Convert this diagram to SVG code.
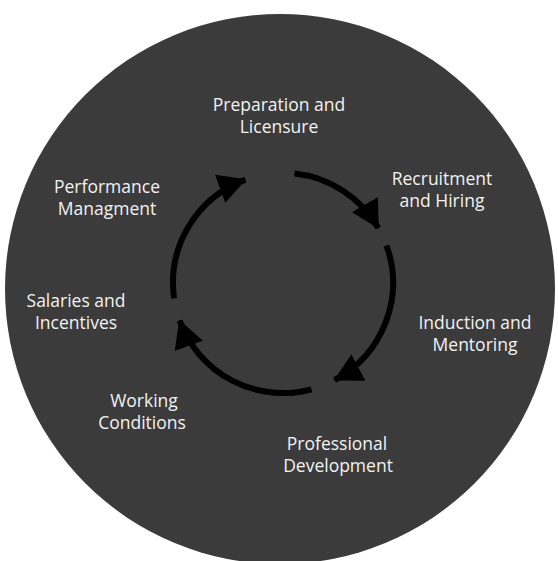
<svg xmlns="http://www.w3.org/2000/svg" width="558" height="561" viewBox="0 0 558 561">
<style>
.lbl{font-family:"Open Sans","DejaVu Sans",sans-serif;font-size:17.5px;fill:#f2f2f2;text-anchor:middle}
.arc{fill:none;stroke:#000;stroke-width:6;marker-end:url(#ah)}
</style>
<defs>
<marker id="ah" markerUnits="userSpaceOnUse" markerWidth="30" markerHeight="30" refX="27" refY="15" orient="auto" viewBox="0 0 30 30">
<path d="M0,0 L28,15 L0,30 Z" fill="#000"/>
</marker>
</defs>
<rect width="558" height="561" fill="#fff"/>
<circle id="background" cx="280" cy="289" r="275" fill="#3b3b3b"/>
<g id="connectors">
<path class="arc" d="M174.1,298.3 A110,110 0 0 1 245.4,179.6"/>
<path class="arc" d="M294.5,173.6 A110,110 0 0 1 378.3,228"/>
<path class="arc" d="M386.4,245.4 A110,110 0 0 1 334.6,380.1"/>
<path class="arc" d="M311.5,389.3 A110,110 0 0 1 179.6,320.6"/>
</g>
<g id="prep"><text class="lbl" x="279" y="111">Preparation and</text><text class="lbl" x="279" y="133">Licensure</text></g>
<g id="recruit"><text class="lbl" x="442" y="185">Recruitment</text><text class="lbl" x="442" y="207">and Hiring</text></g>
<g id="induction"><text class="lbl" x="475" y="329">Induction and</text><text class="lbl" x="475" y="351">Mentoring</text></g>
<g id="profdev"><text class="lbl" x="337" y="450">Professional</text><text class="lbl" x="338" y="472">Development</text></g>
<g id="working"><text class="lbl" x="144" y="407">Working</text><text class="lbl" x="142" y="429">Conditions</text></g>
<g id="salaries"><text class="lbl" x="76" y="307">Salaries and</text><text class="lbl" x="76" y="329">Incentives</text></g>
<g id="performance"><text class="lbl" x="107" y="193">Performance</text><text class="lbl" x="107" y="215">Managment</text></g>
</svg>
